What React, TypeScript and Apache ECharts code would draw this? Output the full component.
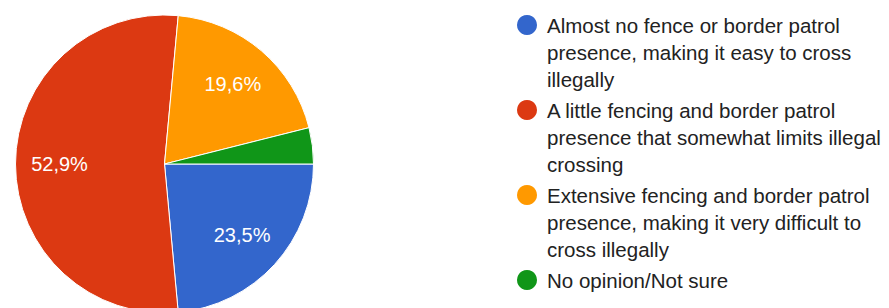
import React, { useEffect, useRef } from 'react';
import * as echarts from 'echarts';

const categories = [
  'Almost no fence or border patrol presence, making it easy to cross illegally',
  'A little fencing and border patrol presence that somewhat limits illegal crossing',
  'Extensive fencing and border patrol presence, making it very difficult to cross illegally',
  'No opinion/Not sure',
];
const legendLines = [
  ['Almost no fence or border patrol', 'presence, making it easy to cross', 'illegally'],
  ['A little fencing and border patrol', 'presence that somewhat limits illegal', 'crossing'],
  ['Extensive fencing and border patrol', 'presence, making it very difficult to', 'cross illegally'],
  ['No opinion/Not sure'],
];
const responses = [12, 27, 10, 2];
const colors = ['#3366cc', '#dc3912', '#ff9900', '#109618'];

const FONT = "'Liberation Sans', Arial, sans-serif";
const LINE = 27;
const CENTER = [164.5, 164];

export default function App() {
  const ref = useRef<HTMLDivElement>(null);
  useEffect(() => {
    if (!ref.current) return;
    const chart = echarts.init(ref.current, undefined, { renderer: 'svg' });
    const pieData = categories.map((name, i) => ({ name, value: responses[i] }));
    const option: any = {
      animation: false,
      color: colors,
      legend: categories.map((name, i) => {
        const n = legendLines[i].length;
        const H = LINE * (2 * n - 1);
        return {
          data: [name],
          orient: 'vertical',
          left: 517,
          top: 25 + 85 * i - H / 2,
          padding: 0,
          itemWidth: 20,
          itemHeight: 20,
          icon: 'circle',
          selectedMode: false,
          itemStyle: { borderWidth: 0 },
          // leading blank lines keep the first text line level with the icon
          formatter: () => '\n'.repeat(n - 1) + legendLines[i].join('\n'),
          textStyle: {
            fontFamily: FONT,
            fontSize: 20.5,
            color: '#222222',
            lineHeight: LINE,
            padding: [0, 0, 0, 5],
          },
        };
      }),
      series: [
        {
          type: 'pie',
          center: CENTER,
          radius: 149,
          startAngle: 0,
          clockwise: true,
          silent: true,
          avoidLabelOverlap: false,
          data: pieData,
          label: { show: false },
          labelLine: { show: false },
          itemStyle: { borderColor: '#ffffff', borderWidth: 1 },
          emphasis: { disabled: true },
        },
        {
          type: 'pie',
          center: CENTER,
          radius: [0, 204],
          startAngle: 0,
          clockwise: true,
          silent: true,
          avoidLabelOverlap: false,
          data: pieData,
          itemStyle: { color: 'rgba(0,0,0,0)', borderWidth: 0 },
          labelLine: { show: false },
          label: {
            show: true,
            position: 'inside',
            color: '#ffffff',
            fontSize: 20,
            fontFamily: FONT,
            textBorderWidth: 0,
            formatter: (p: any) =>
              p.percent < 5 ? '' : p.percent.toFixed(1).replace('.', ',') + '%',
          },
          emphasis: { disabled: true },
        },
      ],
    };
    chart.setOption(option);
    return () => chart.dispose();
  }, []);
  return (
    <div
      ref={ref}
      style={{ position: 'fixed', left: 0, top: 0, width: 889, height: 308, background: '#ffffff' }}
    />
  );
}
